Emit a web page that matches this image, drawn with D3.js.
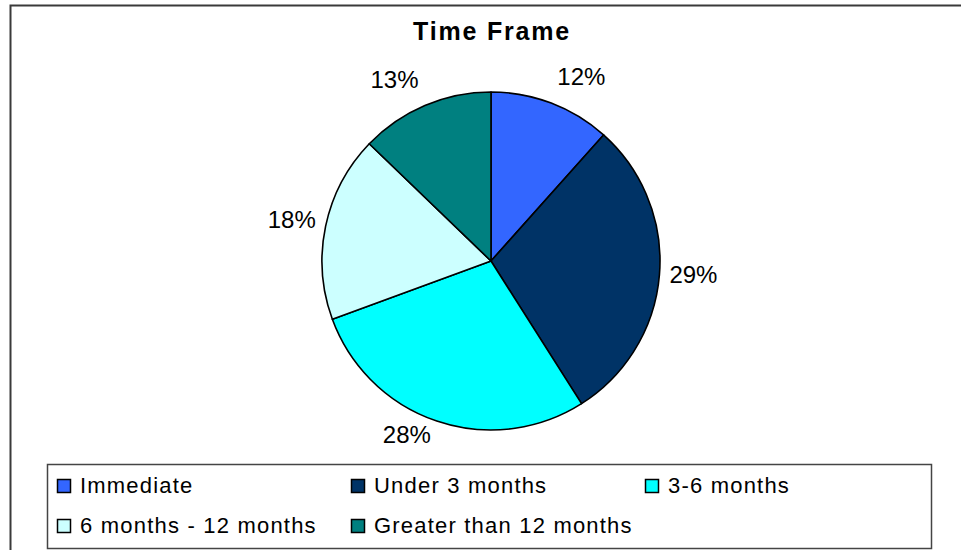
<!DOCTYPE html>
<html>
<head>
<meta charset="utf-8">
<script src="https://cdn.jsdelivr.net/npm/d3@7"></script>
<style>
  html, body { margin: 0; padding: 0; background: #fff; }
  svg { display: block; }
  text { font-family: "Liberation Sans", Arial, sans-serif; fill: #000; }
</style>
</head>
<body>
<svg id="chart" width="961" height="550"></svg>
<script>
const title = "Time Frame";
const categories = ["Immediate", "Under 3 months", "3-6 months", "6 months - 12 months", "Greater than 12 months"];
const values = [11.6, 29.4, 28.4, 17.8, 12.8];
const colors = ["#3366FF", "#003366", "#00FFFF", "#CCFFFF", "#008080"];

const W = 961, H = 550;
const svg = d3.select("#chart");

// outer frame (extends past right/bottom edges)
svg.append("rect")
  .attr("x", 10.5).attr("y", 5.5)
  .attr("width", W + 20).attr("height", H + 20)
  .attr("fill", "#fff").attr("stroke", "#3a3a3a").attr("stroke-width", 2);

// title
svg.append("text")
  .attr("x", 492).attr("y", 40)
  .attr("text-anchor", "middle")
  .style("font-size", "25px").style("font-weight", "bold")
  .style("letter-spacing", "1.8px")
  .text(title);

const cx = 491, cy = 261, r = 169;
const total = d3.sum(values);
const pie = d3.pie().sort(null).value(d => d)(values);
const arc = d3.arc().innerRadius(0).outerRadius(r);

const g = svg.append("g").attr("transform", `translate(${cx},${cy})`);
g.selectAll("path").data(pie).join("path")
  .attr("d", arc)
  .attr("fill", (d, i) => colors[i])
  .attr("stroke", "#000").attr("stroke-width", 1.6)
  .attr("stroke-linejoin", "round");

// percentage labels, outside end
const fmt = d3.format(".0%");
g.selectAll("text.lbl").data(pie).join("text")
  .attr("class", "lbl")
  .attr("text-anchor", "middle")
  .style("font-size", "24px")
  .attr("x", d => {
    const a = (d.startAngle + d.endAngle) / 2;
    return Math.sin(a) * 175 + Math.sign(Math.sin(a)) * 28;
  })
  .attr("y", d => {
    const a = (d.startAngle + d.endAngle) / 2;
    return -Math.cos(a) * 190.5 + 7 * Math.abs(Math.sin(a)) - 0.6;
  })
  .text(d => fmt(d.value / total));

// legend
const legend = svg.append("g");
legend.append("rect")
  .attr("x", 47.5).attr("y", 464.5)
  .attr("width", 884).attr("height", 84)
  .attr("fill", "#fff").attr("stroke", "#444").attr("stroke-width", 1.5);

const colX = d3.scalePoint().domain([0, 1, 2]).range([57, 645]);
const rowY = d3.scalePoint().domain([0, 1]).range([479, 519]);
const items = legend.selectAll("g.item").data(categories).join("g")
  .attr("class", "item")
  .attr("transform", (d, i) => `translate(${colX(i % 3)},${rowY(Math.floor(i / 3))})`);
items.append("rect")
  .attr("x", 0.5).attr("y", 0.5).attr("width", 13).attr("height", 13)
  .attr("fill", (d, i) => colors[i]).attr("stroke", "#000").attr("stroke-width", 1.5);
items.append("text")
  .attr("x", 23).attr("y", 14)
  .style("font-size", "22px")
  .style("letter-spacing", "1.2px")
  .text(d => d);
</script>
</body>
</html>
